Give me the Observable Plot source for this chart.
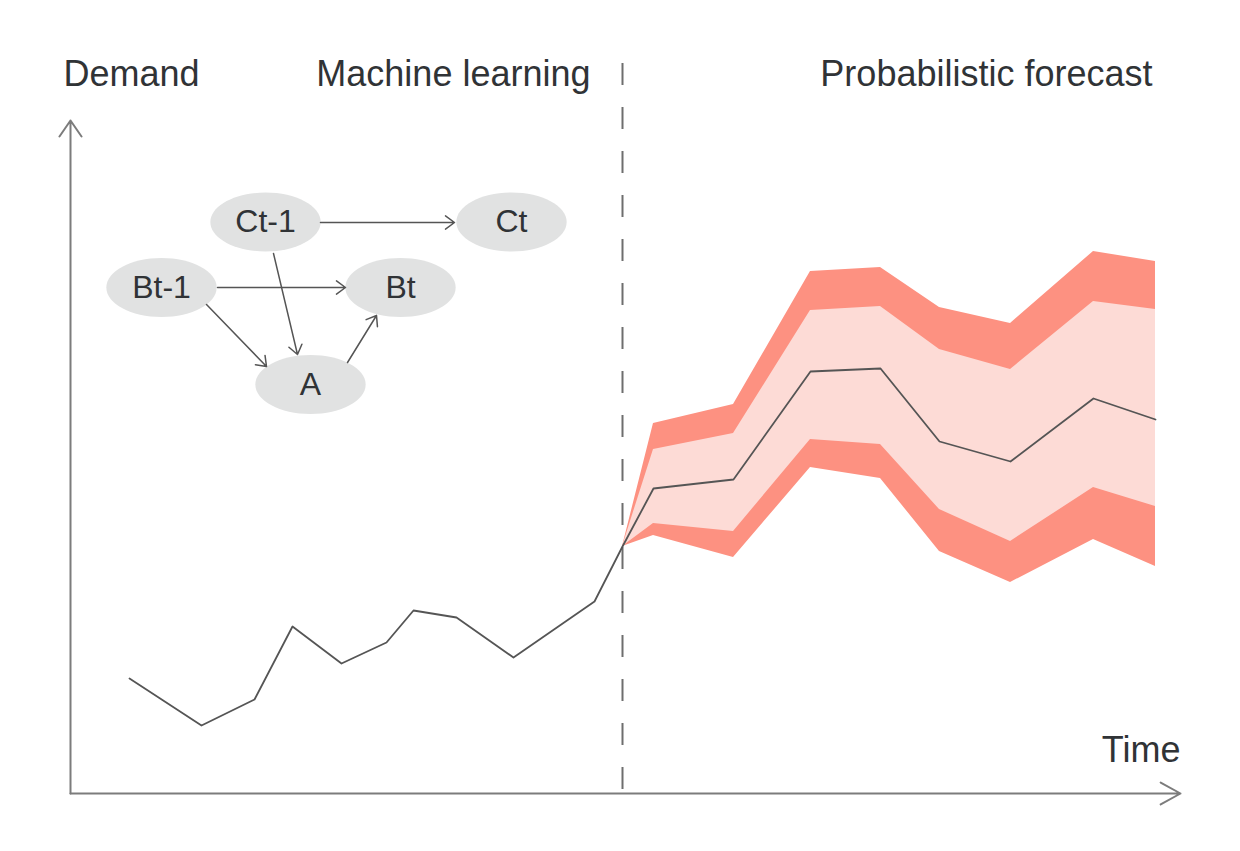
<!DOCTYPE html>
<html>
<head>
<meta charset="utf-8">
<script src="https://cdn.jsdelivr.net/npm/d3@7"></script>
<script src="https://cdn.jsdelivr.net/npm/@observablehq/plot@0.6"></script>
<style>
  html, body { margin: 0; padding: 0; background: #fff; }
  svg { display: block; }
</style>
</head>
<body>
<div id="chart"></div>
<script>
// ---- Data (time units, demand units) ----
const historyTime   = [5.9, 13.1, 18.4, 22.2, 27.1, 31.6, 34.3, 38.6, 44.3, 52.4, 55.2];
const historyDemand = [11.5, 6.8, 9.4, 16.7, 13.0, 15.1, 18.3, 17.6, 13.6, 19.2, 24.7];

const forecastTime   = [55.2, 58.3, 66.3, 74.0, 81.0, 86.9, 94.0, 102.3, 108.5];
const forecastMedian = [24.7, 30.5, 31.4, 42.2, 42.5, 35.2, 33.2, 39.5, 37.4];
const outerUpper     = [24.7, 37.0, 38.9, 52.2, 52.6, 48.6, 47.0, 54.2, 53.2];
const innerUpper     = [24.7, 34.4, 36.0, 48.3, 48.7, 44.4, 42.4, 49.2, 48.4];
const innerLower     = [24.7, 27.0, 26.2, 35.4, 34.9, 28.4, 25.2, 30.6, 28.7];
const outerLower     = [24.7, 25.8, 23.6, 32.6, 31.5, 24.2, 21.1, 25.4, 22.7];

const cutoverTime = 55.2;
const timeAxisEnd = 111;
const demandAxisEnd = 67.3;

// causal graph nodes
const nodeNames  = ["C", "C", "B", "B", "A"];
const nodeSubs   = ["t-1", "t", "t-1", "t", ""];
const nodeTime   = [19.5, 44.1, 9.1, 33.0, 24.0];
const nodeDemand = [57.15, 57.15, 50.6, 50.6, 40.9];

// causal graph edges (start / end points)
const edgeT1 = [25.0, 14.7, 13.6, 20.3, 27.7];
const edgeD1 = [57.1, 50.6, 48.9, 54.0, 43.1];
const edgeT2 = [38.4, 27.5, 19.6, 22.7, 30.6];
const edgeD2 = [57.1, 50.6, 42.7, 43.9, 47.8];

const topLabels = ["Demand", "Machine learning", "Probabilistic forecast"];
const axisLabel = "Time";

// ---- Tables built from the arrays ----
const series = [
  ...historyTime.map((t, i) => ({t, v: historyDemand[i]})),
  ...forecastTime.slice(1).map((t, i) => ({t, v: forecastMedian[i + 1]}))
];
const band = forecastTime.map((t, i) => ({
  t, ol: outerLower[i], ou: outerUpper[i], il: innerLower[i], iu: innerUpper[i]
}));
const nodes = nodeNames.map((n, i) => ({n, s: nodeSubs[i], t: nodeTime[i], v: nodeDemand[i]}));
const edges = edgeT1.map((t1, i) => ({t1, d1: edgeD1[i], t2: edgeT2[i], d2: edgeD2[i]}));

// ellipse symbol for graph nodes
const ellipse = {
  draw(ctx, size) {
    const ry = Math.sqrt(size / Math.PI), rx = ry * 1.87, k = 0.5523;
    ctx.moveTo(rx, 0);
    ctx.bezierCurveTo(rx, ry * k, rx * k, ry, 0, ry);
    ctx.bezierCurveTo(-rx * k, ry, -rx, ry * k, -rx, 0);
    ctx.bezierCurveTo(-rx, -ry * k, -rx * k, -ry, 0, -ry);
    ctx.bezierCurveTo(rx * k, -ry, rx, -ry * k, rx, 0);
    ctx.closePath();
  }
};

const FONT = "'Liberation Sans', Arial, Helvetica, sans-serif";
const TEXT = "#303336";
const AXIS = "#7c7c7c";

const plot = Plot.plot({
  width: 1240,
  height: 851,
  x: {domain: [0, timeAxisEnd], range: [70, 1180], axis: null},
  y: {domain: [0, demandAxisEnd], range: [793, 120], axis: null},
  style: {background: "#fff", fontFamily: FONT},
  marks: [
    Plot.areaY(band, {x: "t", y1: "ol", y2: "ou", fill: "#fd9181"}),
    Plot.areaY(band, {x: "t", y1: "il", y2: "iu", fill: "#fddbd6"}),
    Plot.ruleX([cutoverTime], {y1: 73, y2: 0, stroke: "#6e6e6e", strokeWidth: 2, strokeDasharray: "22,22"}),
    Plot.line(series, {x: "t", y: "v", stroke: "#555", strokeWidth: 1.8}),
    // axes with arrowheads
    Plot.arrow([{x1: 0, y1: 0, x2: 0, y2: demandAxisEnd}], {
      x1: "x1", y1: "y1", x2: "x2", y2: "y2", stroke: AXIS, strokeWidth: 2, headLength: 14.6, headAngle: 69
    }),
    Plot.arrow([{x1: 0, y1: 0, x2: timeAxisEnd, y2: 0}], {
      x1: "x1", y1: "y1", x2: "x2", y2: "y2", stroke: AXIS, strokeWidth: 2, headLength: 17, headAngle: 58
    }),
    // causal graph
    Plot.dot(nodes, {x: "t", y: "v", r: 29.5, symbol: ellipse, fill: "#e1e2e2", stroke: "none"}),
    Plot.arrow(edges, {
      x1: "t1", y1: "d1", x2: "t2", y2: "d2", stroke: "#555", strokeWidth: 1.5, headLength: 11.2, headAngle: 73
    }),
    Plot.text(nodes, {
      x: "t", y: "v", text: d => d.n + d.s, fontSize: 32, fill: TEXT, fontFamily: FONT,
      textAnchor: "middle", ariaLabel: "node-label"
    }),
    // labels
    Plot.text([topLabels[0]], {x: 0, y: 70.8, dx: -7, text: d => d, textAnchor: "start", lineAnchor: "bottom",
      fontSize: 36, fill: TEXT, fontFamily: FONT}),
    Plot.text([topLabels[1]], {x: cutoverTime, y: 70.8, dx: -32, text: d => d, textAnchor: "end", lineAnchor: "bottom",
      fontSize: 36, fill: TEXT, fontFamily: FONT}),
    Plot.text([topLabels[2]], {x: 108.5, y: 70.8, dx: -3, text: d => d, textAnchor: "end", lineAnchor: "bottom",
      fontSize: 36, fill: TEXT, fontFamily: FONT}),
    Plot.text([axisLabel], {x: timeAxisEnd, y: 3.2, text: d => d, textAnchor: "end", lineAnchor: "bottom",
      fontSize: 36, fill: TEXT, fontFamily: FONT})
  ]
});

// subscripts for node labels
const labelGroup = plot.querySelector('g[aria-label="node-label"]');
if (labelGroup) {
  labelGroup.querySelectorAll("text").forEach((el, i) => {
    const d = nodes[i];
    if (!d) return;
    el.textContent = d.n;
    if (d.s) {
      const ts = document.createElementNS("http://www.w3.org/2000/svg", "tspan");
      ts.setAttribute("font-size", "26");
      ts.textContent = d.s;
      el.appendChild(ts);
    }
  });
}

document.getElementById("chart").appendChild(plot);
</script>
</body>
</html>
